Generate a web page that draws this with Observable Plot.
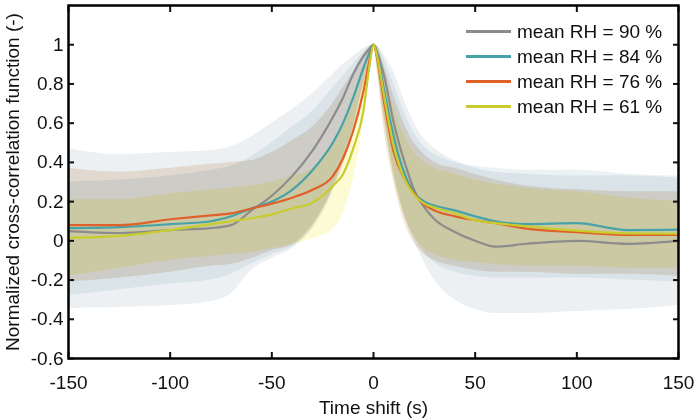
<!DOCTYPE html>
<html>
<head>
<meta charset="utf-8">
<script src="https://cdn.jsdelivr.net/npm/d3@7"></script>
<script src="https://cdn.jsdelivr.net/npm/@observablehq/plot@0.6"></script>
<style>
  html, body { margin: 0; padding: 0; background: #fff; }
  #wrap { position: relative; width: 697px; height: 419px; font-family: "Liberation Sans", Arial, sans-serif; }
  #legend { position: absolute; left: 466px; top: 19px; font-size: 19px; color: #111; }
  #legend .row { display: flex; align-items: center; height: 25px; }
  #legend .sw { width: 45px; height: 3px; margin-right: 6px; }
</style>
</head>
<body>
<div id="wrap"><div id="legend"></div></div>
<script>
const lags = [-150,-125,-100,-80,-70,-60,-50,-40,-30,-20,-15,-10,-5,-2,0,2,5,10,15,20,25,30,40,50,60,75,100,125,150];

const rh90Mean = [0.05,0.04,0.055,0.065,0.08,0.155,0.23,0.33,0.46,0.63,0.73,0.85,0.94,0.98,1,0.955,0.85,0.6,0.41,0.26,0.17,0.11,0.045,0.0,-0.03,-0.015,0.0,-0.015,0.0];
const rh90Hi   = [0.47,0.44,0.45,0.46,0.48,0.53,0.6,0.67,0.75,0.85,0.9,0.94,0.98,0.995,1,0.995,0.95,0.86,0.72,0.6,0.52,0.47,0.41,0.37,0.35,0.34,0.33,0.33,0.32];
const rh90Lo   = [-0.345,-0.34,-0.33,-0.31,-0.27,-0.15,-0.09,-0.04,0.06,0.25,0.4,0.58,0.8,0.93,1,0.88,0.65,0.35,0.14,0.0,-0.11,-0.2,-0.3,-0.35,-0.37,-0.37,-0.36,-0.35,-0.33];

const rh84Mean = [0.065,0.07,0.085,0.1,0.125,0.165,0.2,0.26,0.36,0.5,0.6,0.73,0.88,0.96,1,0.94,0.78,0.53,0.35,0.245,0.2,0.18,0.155,0.125,0.1,0.085,0.09,0.055,0.057];
const rh84Hi   = [0.30,0.31,0.33,0.36,0.38,0.43,0.5,0.58,0.66,0.78,0.84,0.9,0.96,0.99,1,0.99,0.93,0.8,0.66,0.55,0.48,0.44,0.4,0.38,0.37,0.36,0.36,0.34,0.33];
const rh84Lo   = [-0.28,-0.25,-0.22,-0.2,-0.17,-0.12,-0.07,-0.03,0.07,0.27,0.42,0.58,0.8,0.93,1,0.88,0.65,0.33,0.14,0.02,-0.06,-0.11,-0.16,-0.18,-0.19,-0.19,-0.19,-0.2,-0.21];

const rh76Mean = [0.08,0.08,0.11,0.13,0.14,0.165,0.19,0.22,0.26,0.33,0.42,0.56,0.76,0.92,1,0.92,0.72,0.45,0.32,0.24,0.185,0.155,0.125,0.105,0.09,0.062,0.044,0.03,0.03];
const rh76Hi   = [0.37,0.35,0.37,0.39,0.4,0.41,0.45,0.51,0.58,0.7,0.78,0.86,0.95,0.99,1,0.99,0.9,0.74,0.6,0.5,0.44,0.4,0.37,0.34,0.31,0.28,0.26,0.25,0.25];
const rh76Lo   = [-0.21,-0.19,-0.16,-0.13,-0.12,-0.09,-0.05,-0.02,0.08,0.26,0.38,0.55,0.78,0.92,1,0.85,0.58,0.3,0.1,-0.01,-0.07,-0.1,-0.13,-0.15,-0.16,-0.16,-0.17,-0.17,-0.18];

const rh61Mean = [0.015,0.025,0.055,0.085,0.1,0.115,0.135,0.165,0.195,0.28,0.34,0.47,0.66,0.89,1,0.93,0.75,0.48,0.32,0.235,0.19,0.17,0.14,0.105,0.09,0.075,0.052,0.038,0.036];
const rh61Hi   = [0.21,0.21,0.24,0.26,0.27,0.28,0.3,0.33,0.37,0.5,0.58,0.7,0.85,0.95,1,0.99,0.88,0.68,0.54,0.45,0.4,0.37,0.34,0.31,0.29,0.27,0.25,0.22,0.2];
const rh61Lo   = [-0.18,-0.14,-0.1,-0.08,-0.07,-0.06,-0.04,-0.02,0.01,0.06,0.14,0.31,0.6,0.85,1,0.86,0.62,0.32,0.13,0.02,-0.04,-0.07,-0.1,-0.11,-0.12,-0.13,-0.13,-0.14,-0.14];

const seriesLabels = ["mean RH = 90 %","mean RH = 84 %","mean RH = 76 %","mean RH = 61 %"];
const lineColors = ["#8c8c8c","#47a3a8","#e0602a","#c8cc2c"];
const bandColors = ["#ecf0f3","#ebf2f4","#f3e6da","#fcfbd4"];

const xTicks = [-150,-100,-50,0,50,100,150];
const yTicks = [-0.6,-0.4,-0.2,0,0.2,0.4,0.6,0.8,1];

const seriesData = [
  [rh90Mean, rh90Lo, rh90Hi],
  [rh84Mean, rh84Lo, rh84Hi],
  [rh76Mean, rh76Lo, rh76Hi],
  [rh61Mean, rh61Lo, rh61Hi]
].map(([m, lo, hi], k) => lags.map((t, i) => ({lag: t, mean: m[i], lo: lo[i], hi: hi[i], s: k})));

const font = "Liberation Sans, Arial, sans-serif";
const fmt = d => String(+d.toFixed(1));

const bands = seriesData.map((rows, k) => Plot.areaY(rows, {
  x: "lag", y1: "lo", y2: "hi", fill: bandColors[k], curve: "monotone-x", mixBlendMode: "multiply"
}));
const lines = seriesData.map((rows, k) => Plot.lineY(rows, {
  x: "lag", y: "mean", stroke: lineColors[k], strokeWidth: 2.2, curve: "monotone-x"
}));

const chart = Plot.plot({
  width: 697,
  height: 419,
  marginLeft: 68,
  marginRight: 19,
  marginTop: 5,
  marginBottom: 61,
  style: {fontFamily: font, fontSize: "19px", color: "#111", background: "white"},
  x: {domain: [-150, 150]},
  y: {domain: [-0.6, 1.2]},
  marks: [
    ...bands,
    ...lines,
    Plot.axisX(xTicks, {anchor: "bottom", tickSize: 0, tickPadding: 17, tickFormat: fmt, label: null, fontSize: 19}),
    Plot.axisX(xTicks, {anchor: "bottom", tickSize: -6, tickFormat: () => "", label: null, strokeWidth: 2}),
    Plot.axisX(xTicks, {anchor: "top", tickSize: -6, tickFormat: () => "", label: null, strokeWidth: 2}),
    Plot.axisY(yTicks, {anchor: "left", tickSize: 0, tickPadding: 5, tickFormat: fmt, label: null, fontSize: 19}),
    Plot.axisY(yTicks, {anchor: "left", tickSize: -6, tickFormat: () => "", label: null, strokeWidth: 2}),
    Plot.axisY(yTicks, {anchor: "right", tickSize: -6, tickFormat: () => "", label: null, strokeWidth: 2}),
    Plot.frame({stroke: "#000", strokeWidth: 2.5}),
    Plot.text(["Time shift (s)"], {frameAnchor: "bottom", dy: 49, lineAnchor: "middle", textAnchor: "middle", text: d => d, fontSize: 19, fill: "#111"}),
    Plot.text(["Normalized cross-correlation function (-)"], {frameAnchor: "left", dx: -56, rotate: -90, lineAnchor: "middle", textAnchor: "middle", text: d => d, fontSize: 19, fill: "#111"})
  ]
});

document.getElementById("wrap").prepend(chart);

const legend = document.getElementById("legend");
seriesLabels.forEach((lab, k) => {
  const row = document.createElement("div");
  row.className = "row";
  const sw = document.createElement("div");
  sw.className = "sw";
  sw.style.background = lineColors[k];
  const tx = document.createElement("span");
  tx.textContent = lab;
  row.appendChild(sw);
  row.appendChild(tx);
  legend.appendChild(row);
});
</script>
</body>
</html>
